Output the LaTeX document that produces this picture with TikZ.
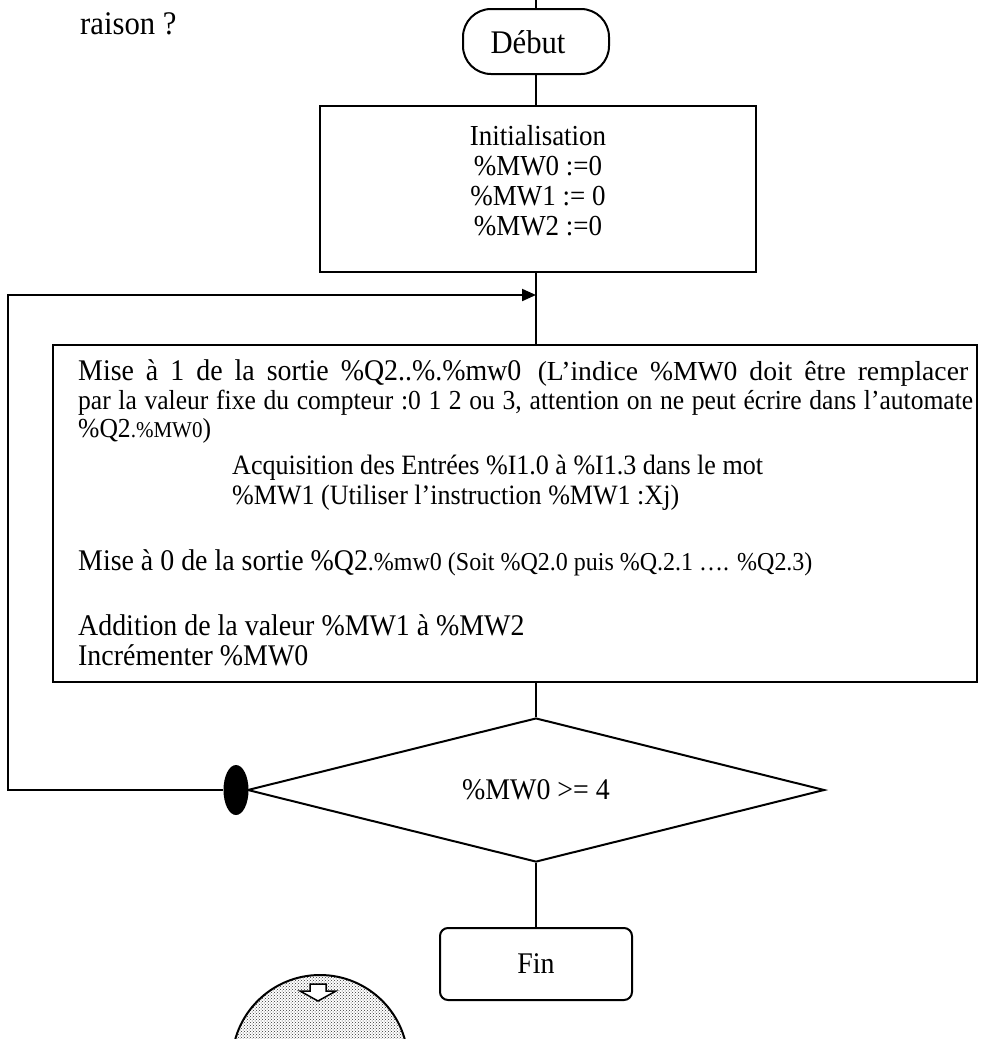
\documentclass[tikz,border=0pt]{standalone}
\usepackage{fontspec}
\usepackage{graphicx}
\setmainfont[FakeStretch=0.93]{Liberation Serif}
\usetikzlibrary{shapes.geometric,arrows.meta,patterns}
\newcommand\bigtxt{\fontsize{30}{34}\selectfont}
\newcommand\midtxt{\fontsize{28}{32}\selectfont}
\newcommand\smtxt{\fontsize{27.5}{31}\selectfont}
\newcommand\smbtxt{\fontsize{25.8}{30}\selectfont}
\newcommand\xstxt{\fontsize{22.6}{26}\selectfont}
\newcommand\wideword[1]{\scalebox{1.08}[1]{\smtxt #1}}
\begin{document}
\begin{tikzpicture}[x=1pt,y=-1pt,
  box/.style={draw, line width=2pt, inner sep=0pt, fill=white},
  conn/.style={line width=2pt},
  txt/.style={font=\bigtxt, inner sep=0pt, anchor=base west},
  ctxt/.style={font=\fontsize{29}{33}\selectfont, inner sep=0pt, anchor=base}]
\useasboundingbox (0,0) rectangle (1003,1039);

% clip art at the bottom
\begin{scope}
  \clip (0,0) rectangle (1003,1039);
  \fill[white] (320,1063) circle (88);
  \fill[pattern=crosshatch dots, pattern color=black!80] (320,1063) circle (88);
  \draw[line width=2pt] (320,1063) circle (88);
  \filldraw[fill=white, draw=black, line width=1.5pt]
    (310,984) -- (326,984) -- (326,991) -- (336,991) -- (318,1001)
    -- (300,991) -- (310,991) -- cycle;
\end{scope}

% title text
\node[font=\fontsize{33}{37}\selectfont, inner sep=0pt, anchor=base west] (raison) at (80,34) {raison ?};

% start
\coordinate (top) at (536,0);
\node[box, rounded corners=28pt, minimum width=146pt, minimum height=65pt] (debut) at (536,41.5) {};
\node[font=\fontsize{33}{37}\selectfont, inner sep=0pt, anchor=base] (debutT) at (528,53) {D\'ebut};

% initialisation
\node[box, minimum width=436pt, minimum height=166pt] (init) at (538,189) {};
\node[ctxt] (i1) at (538,145) {Initialisation};
\node[ctxt] (i2) at (538,175) {\%MW0 :=0};
\node[ctxt] (i3) at (538,205) {\%MW1 := 0};
\node[ctxt] (i4) at (538,235) {\%MW2 :=0};

% main processing box
\node[box, minimum width=924pt, minimum height=337pt] (big) at (515,513.5) {};
\node[txt] (b1) at (78,380) {\makebox[890pt][s]{Mise à 1 de la sortie \%Q2..\%.\%mw0\hspace{0.55em}\wideword{(L’indice} \wideword{\%MW0} \wideword{doit} \wideword{être} \wideword{remplacer}}};
\node[txt, font=\smtxt] (b2) at (78,409) {\makebox[895pt][s]{par la valeur fixe du compteur :0 1 2 ou 3, attention on ne peut écrire dans l’automate}};
\node[txt, font=\smtxt] (b3) at (78,437) {\%Q2{\xstxt .\%MW0})};
\node[txt, font=\midtxt] (b4) at (232,474) {Acquisition des Entrées \%I1.0 à \%I1.3 dans le mot};
\node[txt, font=\midtxt] (b5) at (232,504) {\%MW1 (Utiliser l’instruction \%MW1 :Xj)};
\node[txt] (b6) at (78,570) {Mise à 0 de la sortie \%Q2{\smbtxt .\%mw0 (Soit \%Q2.0 puis \%Q.2.1 …. \%Q2.3)}};
\node[txt] (b7) at (78,635) {Addition de la valeur \%MW1 à \%MW2};
\node[txt] (b8) at (78,665) {Incrémenter \%MW0};

% decision
\node[draw, diamond, aspect=4, minimum width=577pt, minimum height=144pt, inner sep=0pt, line width=2pt, font=\bigtxt] (dec) at (536,790) {\%MW0 >= 4};
\node[ellipse, fill=black, minimum width=25pt, minimum height=50pt, inner sep=0pt] (dot) at (236,790) {};

% end
\node[box, rounded corners=8pt, minimum width=192pt, minimum height=72pt, font=\bigtxt] (fin) at (536,964) {Fin};

% loop corners
\coordinate (lc1) at (8,790);
\coordinate (lc2) at (8,295);
\coordinate (arr) at (536,295);

% connectors
\draw[conn] (top) -- (debut.north);
\draw[conn] (debut.south) -- (debut.south |- init.north);
\draw[conn] (debut.south |- init.south) -- (debut.south |- big.north);
\draw[conn] (debut.south |- big.south) -- (dec.north);
\draw[conn] (dec.south) -- (fin.north);
\draw[conn, -{Triangle[length=14pt,width=12pt]}] (dot.west) -- (lc1) -- (lc2) -- (arr);
\end{tikzpicture}
\end{document}
